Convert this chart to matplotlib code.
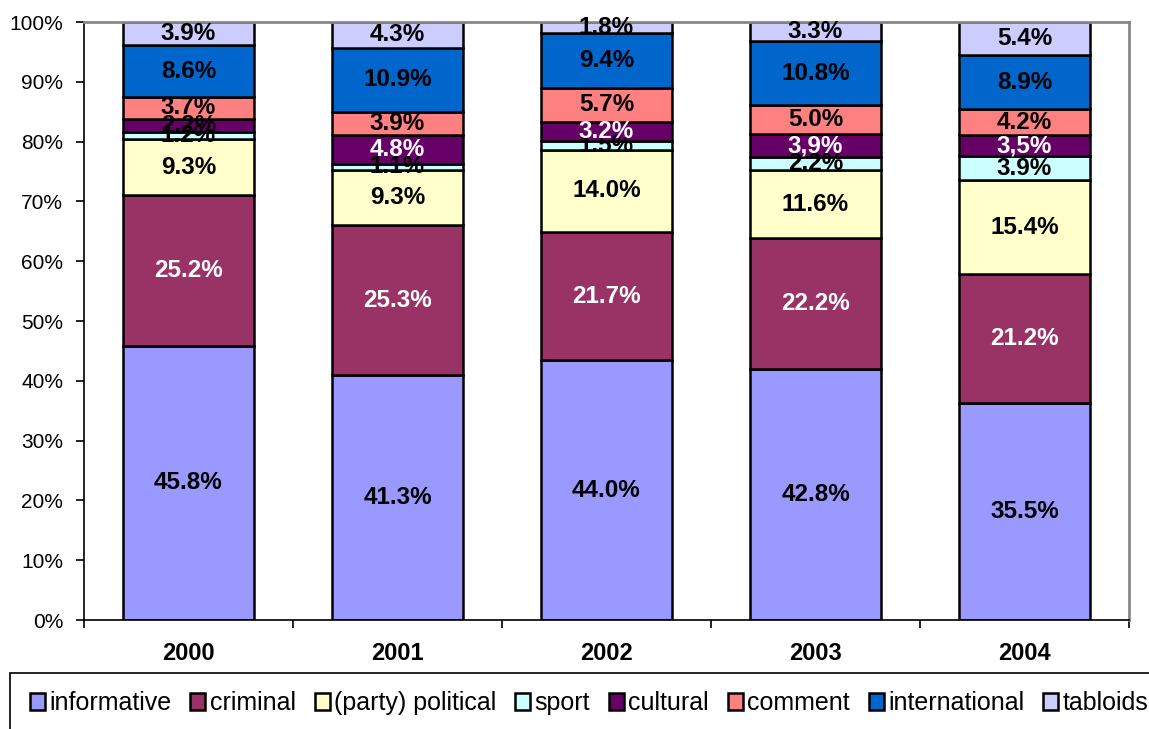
import matplotlib.pyplot as plt
from matplotlib.patches import Rectangle
import numpy as np

years = ["2000", "2001", "2002", "2003", "2004"]
categories = ["informative", "criminal", "(party) political", "sport",
              "cultural", "comment", "international", "tabloids"]
values = {
    "informative":       [45.8, 41.3, 44.0, 42.8, 35.5],
    "criminal":          [25.2, 25.3, 21.7, 22.2, 21.2],
    "(party) political": [9.3, 9.3, 14.0, 11.6, 15.4],
    "sport":             [1.2, 1.1, 1.5, 2.2, 3.9],
    "cultural":          [2.2, 4.8, 3.2, 3.9, 3.5],
    "comment":           [3.7, 3.9, 5.7, 5.0, 4.2],
    "international":     [8.6, 10.9, 9.4, 10.8, 8.9],
    "tabloids":          [3.9, 4.3, 1.8, 3.3, 5.4],
}
labels = {
    "informative":       ["45.8%", "41.3%", "44.0%", "42.8%", "35.5%"],
    "criminal":          ["25.2%", "25.3%", "21.7%", "22.2%", "21.2%"],
    "(party) political": ["9.3%", "9.3%", "14.0%", "11.6%", "15.4%"],
    "sport":             ["1.2%", "1.1%", "1.5%", "2.2%", "3.9%"],
    "cultural":          ["2.2%", "4.8%", "3.2%", "3,9%", "3,5%"],
    "comment":           ["3.7%", "3.9%", "5.7%", "5.0%", "4.2%"],
    "international":     ["8.6%", "10.9%", "9.4%", "10.8%", "8.9%"],
    "tabloids":          ["3.9%", "4.3%", "1.8%", "3.3%", "5.4%"],
}
colors = ["#9999FF", "#993366", "#FFFFCC", "#CCFFFF",
          "#660066", "#FF8080", "#0066CC", "#CCCCFF"]

data = np.array([values[c] for c in categories])
pct = data / data.sum(axis=0) * 100

fig = plt.figure(figsize=(11.49, 7.29), dpi=100)
ax = fig.add_axes([0.0731, 0.1495, 0.9095, 0.8203])

x = np.arange(len(years))
bottom = np.zeros(len(years))
handles = []
for i, cat in enumerate(categories):
    bars = ax.bar(x, pct[i], 0.625, bottom=bottom, color=colors[i],
                  edgecolor="black", linewidth=1.8, label=cat)
    handles.append(bars)
    for j in range(len(years)):
        tc = "black"
        if cat == "criminal" or (cat == "cultural" and j > 0):
            tc = "white"
        ax.text(x[j], bottom[j] + pct[i][j] / 2, labels[cat][j],
                ha="center", va="center", color=tc, fontsize=17.5,
                fontweight="bold", family="Liberation Sans")
    bottom += pct[i]

ax.set_xlim(-0.5, len(years) - 0.5)
ax.set_ylim(0, 100)
ax.set_yticks(np.arange(0, 101, 10))
ax.set_yticklabels([f"{v}%" for v in range(0, 101, 10)],
                   fontsize=15, family="Liberation Sans")
ax.set_xticks(x)
ax.set_xticklabels(years, fontsize=17, fontweight="bold", family="Liberation Sans")
ax.tick_params(axis="x", length=0, pad=16)
ax.set_xticks(np.arange(-0.5, len(years), 1), minor=True)
ax.tick_params(axis="x", which="minor", length=6, width=1.2, direction="out")
ax.tick_params(axis="y", length=6, width=1.2, direction="out", pad=9)

ax.spines["left"].set_linewidth(1.2)
ax.spines["bottom"].set_linewidth(1.2)
ax.spines["top"].set_color("#888888")
ax.spines["right"].set_color("#888888")
ax.spines["top"].set_linewidth(2)
ax.spines["right"].set_linewidth(2)

# legend box runs off the bottom/right of the image like the original
fig.patches.append(Rectangle((10 / 1149, -0.05), 1.1, 0.05 + 1 - 673 / 729,
                             transform=fig.transFigure, fill=False,
                             edgecolor="black", linewidth=1.2))
leg = fig.legend(handles=handles, labels=categories, loc="center left",
                 bbox_to_anchor=(30 / 1149, 1 - 703 / 729),
                 ncol=8, frameon=False, borderpad=0, borderaxespad=0,
                 handlelength=0.6, handleheight=0.65, handletextpad=0.18,
                 columnspacing=0.75,
                 prop={"family": "Liberation Sans", "size": 18})

fig.savefig("out.png", dpi=100)
